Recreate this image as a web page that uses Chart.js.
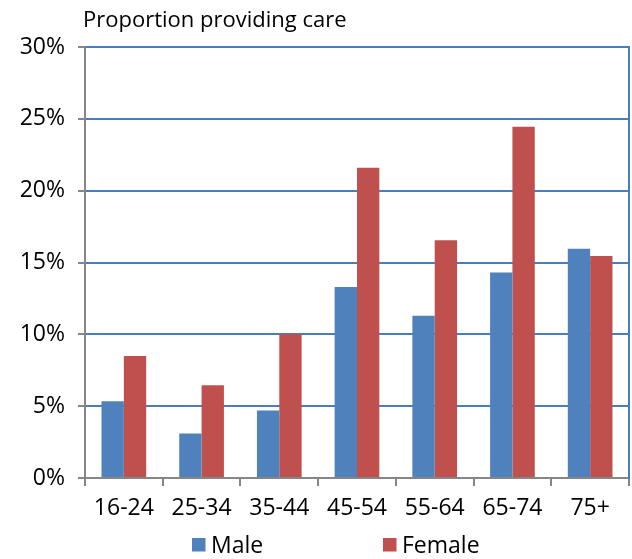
<!DOCTYPE html>
<html>
<head>
<meta charset="utf-8">
<script src="https://cdn.jsdelivr.net/npm/chart.js@4.4.1/dist/chart.umd.min.js"></script>
<style>
  html, body { margin: 0; padding: 0; background: #ffffff; }
  #wrap { width: 632px; height: 559px; }
</style>
</head>
<body>
<div id="wrap"><canvas id="c" width="632" height="559"></canvas></div>
<script>
// ---- data ----
const categories = ["16-24", "25-34", "35-44", "45-54", "55-64", "65-74", "75+"];
const maleValues = [5.35, 3.1, 4.7, 13.3, 11.3, 14.3, 15.95];
const femaleValues = [8.5, 6.45, 10.0, 21.6, 16.55, 24.45, 15.45];
const seriesNames = ["Male", "Female"];
const yTicks = [0, 5, 10, 15, 20, 25, 30];
const titleText = "Proportion providing care";

const FONT = "'Open Sans', 'Noto Sans', sans-serif";
const BLUE = "#4f81bd";
const RED = "#c0504d";
const GRID = "#4a7ebb";
const AXIS = "#868686";

const titleLegendPlugin = {
  id: "titleLegend",
  afterDraw(chart) {
    const ctx = chart.ctx;
    ctx.save();
    ctx.fillStyle = "#000";
    ctx.textBaseline = "alphabetic";
    ctx.textAlign = "left";
    ctx.font = "22px " + FONT;
    ctx.fillText(titleText, chart.chartArea.left - 2, 27);
    // legend
    const items = [
      { x: 192, label: chart.data.datasets[0].label, color: chart.data.datasets[0].backgroundColor },
      { x: 383, label: chart.data.datasets[1].label, color: chart.data.datasets[1].backgroundColor }
    ];
    ctx.font = "23px " + FONT;
    items.forEach(it => {
      ctx.fillStyle = it.color;
      ctx.fillRect(it.x, 538, 13.5, 13.5);
      ctx.fillStyle = "#000";
      ctx.fillText(it.label, it.x + 19, 552.5);
    });
    ctx.restore();
  }
};

new Chart(document.getElementById("c"), {
  type: "bar",
  data: {
    labels: categories,
    datasets: [
      { label: seriesNames[0], data: maleValues, backgroundColor: BLUE, borderWidth: 0,
        barPercentage: 1.0, categoryPercentage: 0.575, yAxisID: "y" },
      { label: seriesNames[1], data: femaleValues, backgroundColor: RED, borderWidth: 0,
        barPercentage: 1.0, categoryPercentage: 0.575, yAxisID: "y" }
    ]
  },
  options: {
    responsive: false,
    animation: false,
    devicePixelRatio: 1,
    layout: { padding: { top: 47, bottom: 31, left: 0, right: 3 } },
    plugins: {
      legend: { display: false },
      title: { display: false },
      tooltip: { enabled: false }
    },
    scales: {
      x: {
        grid: { display: true, drawOnChartArea: false, drawTicks: true, tickLength: 8,
                tickColor: AXIS, tickWidth: 2, offset: true, color: AXIS, lineWidth: 2 },
        border: { display: true, color: AXIS, width: 2 },
        ticks: { color: "#000", font: { family: FONT, size: 23 }, padding: 9, maxRotation: 0, autoSkip: false },
        afterFit: s => { s.height = 50; }
      },
      y: {
        min: 0, max: 30,
        afterBuildTicks: s => { s.ticks = yTicks.map(v => ({ value: v })); },
        grid: {
          color: c => (c.tick && c.tick.value === 0) ? "rgba(0,0,0,0)" : GRID,
          lineWidth: 2, tickLength: 7, tickColor: AXIS, tickWidth: 2
        },
        border: { display: true, color: AXIS, width: 2 },
        ticks: { color: "#000", font: { family: FONT, size: 23 }, padding: 13,
                 callback: v => v + "%" },
        afterFit: s => { s.width = 85; }
      },
      y2: {
        position: "right", min: 0, max: 30,
        grid: { display: false },
        border: { display: true, color: GRID, width: 2 },
        ticks: { display: false },
        afterFit: s => { s.width = 0; }
      }
    }
  },
  plugins: [titleLegendPlugin]
});
</script>
</body>
</html>
